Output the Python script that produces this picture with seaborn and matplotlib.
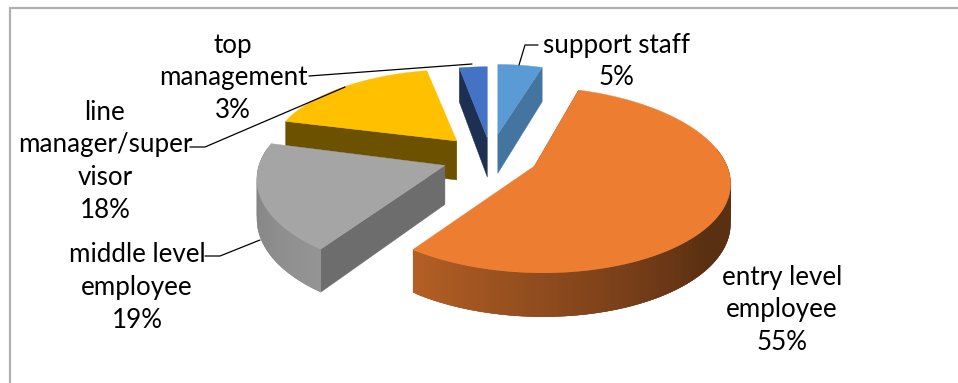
import numpy as np
import matplotlib
matplotlib.use("Agg")
import matplotlib.pyplot as plt
from matplotlib.patches import Polygon
import seaborn as sns

# Share of respondents by job level, clockwise from twelve o'clock
categories = ["support staff", "entry level employee", "middle level employee",
              "line manager/supervisor", "top management"]
shares = [5, 55, 19, 18, 3]
top_colors = ["#5B9BD5", "#ED7D31", "#A5A5A5", "#FFC000", "#4472C4"]
label_lines = [["support staff", "5%"],
               ["entry level", "employee", "55%"],
               ["middle level", "employee", "19%"],
               ["line", "manager/super", "visor", "18%"],
               ["top", "management", "3%"]]

sns.set_theme(style="white")
plt.rcParams["font.family"] = ["Lato", "DejaVu Sans"]

# Pixel-like canvas and the perspective used for the tilted pie
W, H = 958, 383
CX, CY = 490, 156
RX, RY = 186, 91
KP = 0.148
EXPLODE_X, EXPLODE_Y = 50, 22
DEPTH = 39
FONT = 18.7

# Per-slice size, skew and offset of the perspective view
scale_x = [0.88, 1.035, 1.0, 0.985, 0.92]
scale_y = [0.88, 1.0, 1.0, 0.90, 0.90]
skew_x = [0, -8.5, 0, 0, 0]
nudge_x = [0, 0, 2, 1, 2]
nudge_y = [0, 0, 2, 1, 4]

palette = sns.color_palette(top_colors)
boundaries = 2 * np.pi * np.cumsum([0] + shares) / sum(shares)


def shade(color, factor):
    return tuple(c * factor for c in color)


fig = plt.figure(figsize=(W / 100, H / 100), dpi=100)
ax = fig.add_axes([0, 0, 1, 1])
ax.set_xlim(0, W)
ax.set_ylim(H, 0)
ax.axis("off")


def draw_face(points, color, z):
    ax.add_patch(Polygon(points, closed=True, facecolor=color, edgecolor=color,
                         linewidth=0.3, zorder=z))


def draw_strip(points, color, z):
    ax.add_patch(Polygon(points, closed=True, facecolor=color, edgecolor="none", zorder=z))


radial_shades = {0: 0.75, 1: 0.6, 2: 0.66, 3: 0.42, 4: 0.42}
radial_at_end = {0: True, 1: False, 2: False, 3: False, 4: False}
draw_order = [4, 0, 3, 2, 1]

for rank, i in enumerate(draw_order):
    a0, a1 = boundaries[i], boundaries[i + 1]
    mid = (a0 + a1) / 2
    tip_x = CX + EXPLODE_X * np.sin(mid) + nudge_x[i]
    tip_y = CY - EXPLODE_Y * np.cos(mid) + nudge_y[i]

    def project(u, v, drop=0.0):
        s = 1 / (1 + KP * v)
        x = tip_x + scale_x[i] * RX * u * s + skew_x[i] * v
        y = tip_y - scale_y[i] * RY * v * s + drop * DEPTH * (1 - 0.13 * v)
        return x, y

    theta = np.linspace(a0, a1, 160)
    uu, vv = np.sin(theta), np.cos(theta)
    color = palette[i]
    z = 2 + rank

    # Radial wall between the slice tip and one rim end
    edge_angle = a1 if radial_at_end[i] else a0
    eu, ev = np.sin(edge_angle), np.cos(edge_angle)
    draw_face([project(0, 0), project(eu, ev), project(eu, ev, 1), project(0, 0, 1)],
              shade(color, radial_shades[i]), z)

    # Curved rim, built from overlapping strips with a running shade
    if i in (1, 2):
        sel = np.where(np.cos(theta) < 0.2)[0][::-1]
        for n in range(len(sel) - 1):
            j0 = sel[n]
            j1 = sel[min(n + 3, len(sel) - 1)]
            frac = n / len(sel)
            if i == 1:
                f = 0.76 + (0.38 - 0.76) * min(1.0, frac / 0.62)
            else:
                f = 0.76 + (0.9 - 0.76) * frac
            draw_strip([project(uu[j0], vv[j0]), project(uu[j1], vv[j1]),
                        project(uu[j1], vv[j1], 1), project(uu[j0], vv[j0], 1)],
                       shade(color, f), z)

    # Top surface
    px, py = project(np.r_[0.0, uu], np.r_[0.0, vv])
    draw_face(np.column_stack([px, py]), color, z + 0.5)

# Chart frame, visible along the top and left only
ax.plot([10, 10, W], [H, 8, 8], color="#B0B0B0", linewidth=1.6, zorder=1,
        solid_joinstyle="miter")

# Leader lines from labels to slices
leaders = [[(538, 45), (525, 45), (519, 65)],
           [(205, 256), (220, 256), (260, 240)],
           [(190, 147), (205, 147), (345, 87)],
           [(309, 76), (472, 64)]]
for path in leaders:
    xs, ys = zip(*path)
    ax.plot(xs, ys, color="black", linewidth=0.9, zorder=20)

# Slice labels, one text per line
label_anchor = [(617, 45), (782, 277), (137, 255), (105, 112), (233, 45)]
LINE = 32.8
for i, lines in enumerate(label_lines):
    x, y = label_anchor[i]
    for n, line in enumerate(lines):
        ax.text(x, y + n * LINE, line, ha="center", va="center", fontsize=FONT,
                color="black", zorder=21)

fig.savefig("out.png", dpi=100, facecolor="white")
